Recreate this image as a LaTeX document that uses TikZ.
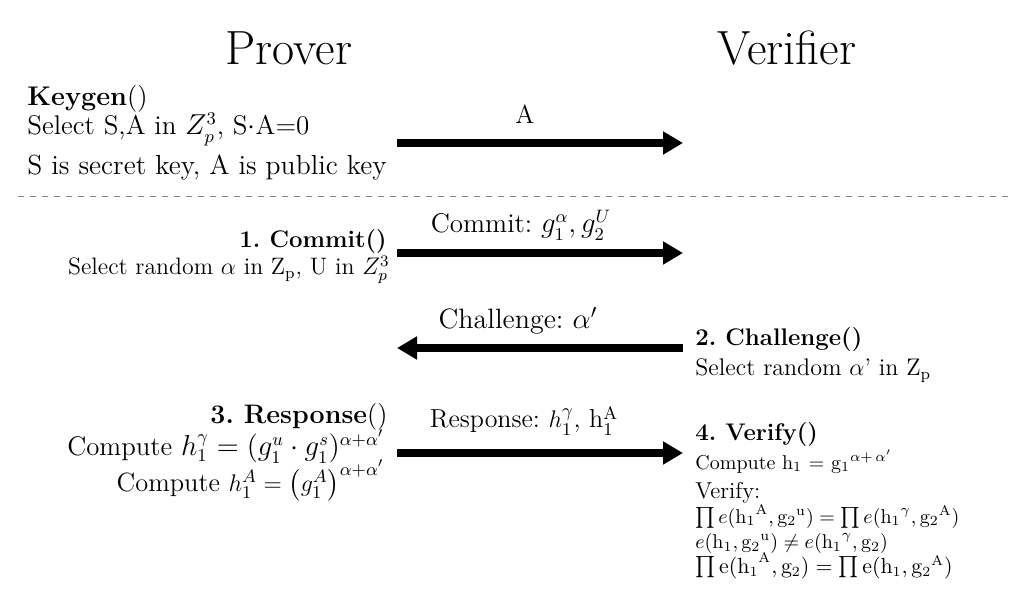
\documentclass[tikz,border=0pt]{standalone}
\usepackage{amssymb}
\usepackage{mathtools}
\usetikzlibrary{arrows.meta}
\frenchspacing

\begin{document}
\begin{tikzpicture}[x=0.5pt,y=-0.5pt,
                    fs/.style={font=\fontsize{#1}{#1}\selectfont}]
            \useasboundingbox (0,0) rectangle (1036,613);

            \begin{scope}[every node/.style={inner sep=0pt,fs=13}]
                \node (P) [fs=24] at (289,48) {Prover};
                \node (V) [fs=24] at (787,48) {Verifier};

                \node (K0) [anchor=base west, fs=13.5] at (27,106) {\textbf{Keygen}()};
                \node (K1) [anchor=base west, fs=13.5] at (27,135) {Select S,A in $Z_p^3$, S$\cdot$A=0};
                \node (K2) [anchor=base west, fs=13.8] at (27,175) {S is secret key, A is public key};

                \node (C0) [anchor=base east, fs=12] at (387,248) {\textbf{1. Commit()}};
                \node (C1) [anchor=base east, fs=11.9] at (390,275) {Select random $\alpha$ in Z$_\mathrm{p}$, U in $Z_p^3$};

                \node (H0) [anchor=base west, fs=12] at (695,346) {\textbf{2. Challenge()}};
                \node (H1) [anchor=base west, fs=12] at (695,376) {Select random $\alpha$' in Z$_\mathrm{p}$};

                \node (R0) [anchor=base east, fs=13.4] at (388,424) {\textbf{3. Response}()};
                \node (R1) [anchor=base east, fs=13.4] at (385,456) {Compute $h_1^\gamma = (g_1^u \cdot g_1^s)^{\alpha+\alpha'}$};
                \node (R2) [anchor=base east, fs=13.2] at (385,491) {Compute $h_1^A = \bigl(g_1^A\bigr)^{\alpha+\alpha'}$};

                \node (F0) [anchor=base west, fs=12] at (695,441) {\textbf{4. Verify()}};
                \node (F1) [anchor=base west, fs=10] at (695,469) {Compute h$_1$ = g$_1{}^{\alpha+\,\alpha'}$};
                \node (F2) [anchor=base west, fs=11.5] at (695,498) {Verify:};
                \node (F3) [anchor=base west, fs=10.4] at (695,523) {$\prod e(\mathrm{h_1}^\mathrm{A},\mathrm{g_2}^\mathrm{u}) = \prod e(\mathrm{h_1}^\gamma,\mathrm{g_2}^\mathrm{A})$};
                \node (F4) [anchor=base west, fs=10.4] at (695,548) {$e(\mathrm{h_1},\mathrm{g_2}^\mathrm{u}) \neq e(\mathrm{h_1}^\gamma,\mathrm{g_2})$};
                \node (F5) [anchor=base west, fs=10.6] at (695,573) {$\prod \mathrm{e}(\mathrm{h_1}^\mathrm{A},\mathrm{g_2}) = \prod \mathrm{e}(\mathrm{h_1},\mathrm{g_2}^\mathrm{A})$};

                \node (mA) [anchor=base] at (525,124) {A};
                \node (mC) [anchor=base, fs=13.5] at (521,233) {Commit: $g_1^\alpha, g_2^U$};
                \node (mH) [anchor=base, fs=14] at (518,329) {Challenge: $\alpha'$};
                \node (mR) [anchor=base, fs=13] at (524,428) {Response: $h_1^\gamma$, h$_1^\mathrm{A}$};
            \end{scope}

            % message ends
            \coordinate (pA) at (397,143);  \coordinate (vA) at (683,143);
            \coordinate (pC) at (397,253);  \coordinate (vC) at (683,253);
            \coordinate (pH) at (397,348);  \coordinate (vH) at (683,348);
            \coordinate (pR) at (397,453);  \coordinate (vR) at (683,453);
            \coordinate (dL) at (18,196);   \coordinate (dR) at (1012,196);

            \draw [dashed, gray, thin] (dL) -- (dR);

            \begin{scope}[every path/.style={line width=4pt, -{Triangle[length=10pt,width=11pt]}}]
                \draw (pA) -- (vA);
                \draw (pC) -- (vC);
                \draw (vH) -- (pH);
                \draw (pR) -- (vR);
            \end{scope}
        \end{tikzpicture}
\end{document}
